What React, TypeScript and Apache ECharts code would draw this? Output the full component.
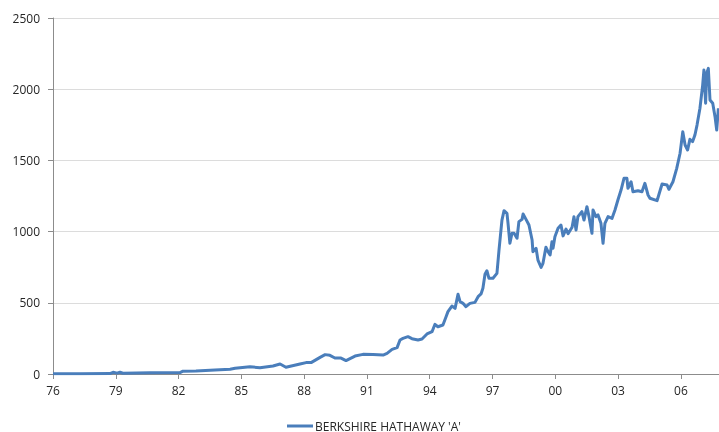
import React, { useEffect, useRef } from "react";
import * as echarts from "echarts";

const seriesName = "BERKSHIRE HATHAWAY 'A'";
const baseYear = 1976;

const years: number[] = [
  1976.0, 1977.29, 1978.72, 1978.87, 1979.06, 1979.2, 1979.34, 1980.63, 1982.07, 1982.21,
  1982.83, 1983.74, 1984.46, 1984.7, 1985.41, 1985.89, 1986.51, 1986.85, 1987.13, 1987.8,
  1988.09, 1988.33, 1988.76, 1989.0, 1989.23, 1989.47, 1989.76, 1990.0, 1990.43, 1990.81,
  1991.29, 1991.77, 1991.96, 1992.2, 1992.44, 1992.58, 1992.72, 1992.96, 1993.15, 1993.44,
  1993.63, 1993.87, 1994.11, 1994.25, 1994.39, 1994.63, 1994.78, 1994.87, 1995.06, 1995.21,
  1995.35, 1995.45, 1995.59, 1995.73, 1995.92, 1996.16, 1996.31, 1996.45, 1996.54, 1996.64,
  1996.73, 1996.83, 1997.02, 1997.21, 1997.31, 1997.45, 1997.55, 1997.69, 1997.74, 1997.83,
  1997.93, 1998.03, 1998.17, 1998.26, 1998.41, 1998.46, 1998.6, 1998.74, 1998.89, 1998.93,
  1999.08, 1999.17, 1999.32, 1999.41, 1999.55, 1999.65, 1999.75, 1999.84, 1999.89, 1999.98,
  2000.13, 2000.27, 2000.37, 2000.51, 2000.61, 2000.8, 2000.89, 2000.99, 2001.08, 2001.27,
  2001.37, 2001.51, 2001.61, 2001.75, 2001.8, 2001.94, 2002.04, 2002.18, 2002.28, 2002.37,
  2002.52, 2002.71, 2002.85, 2002.99, 2003.14, 2003.28, 2003.42, 2003.47, 2003.62, 2003.71,
  2003.95, 2004.14, 2004.28, 2004.43, 2004.52, 2004.86, 2005.1, 2005.34, 2005.43, 2005.62,
  2005.8, 2005.96, 2006.09, 2006.2, 2006.32, 2006.43, 2006.56, 2006.67, 2006.77, 2006.91,
  2007.04, 2007.1, 2007.18, 2007.23, 2007.31, 2007.39, 2007.52, 2007.63, 2007.71, 2007.79,
];

const prices: number[] = [
  1, 2, 3, 12, 6, 12, 5, 8, 10, 20,
  21, 28, 33, 40, 51, 44, 56, 70, 47, 70,
  80, 80, 117, 136, 131, 112, 112, 94, 126, 138,
  137, 133, 145, 173, 185, 239, 250, 262, 248, 239,
  246, 281, 297, 349, 332, 344, 402, 438, 477, 461,
  560, 508, 496, 473, 496, 503, 543, 562, 602, 700,
  725, 672, 672, 707, 871, 1081, 1147, 1128, 1058, 918,
  988, 988, 953, 1070, 1086, 1124, 1086, 1046, 941, 859,
  883, 800, 749, 777, 890, 859, 836, 929, 883, 964,
  1023, 1046, 970, 1017, 985, 1030, 1105, 1011, 1105, 1140,
  1081, 1175, 1105, 988, 1152, 1105, 1117, 1058, 918, 1058,
  1105, 1093, 1152, 1222, 1292, 1374, 1374, 1304, 1350, 1280,
  1287, 1280, 1339, 1257, 1234, 1217, 1334, 1327, 1297, 1350,
  1444, 1550, 1702, 1608, 1573, 1648, 1632, 1678, 1748, 1866,
  2029, 2135, 1901, 2112, 2146, 1924, 1901, 1807, 1713, 1866,
];

const xAxisEndYear = 2007.82;
const yTicks = { min: 0, max: 2500, interval: 500 };

export default function App() {
  const ref = useRef<HTMLDivElement>(null);
  useEffect(() => {
    if (!ref.current) return;
    const chart = echarts.init(ref.current, undefined, { renderer: "svg" });
    const data = years.map((y, i) => [y - baseYear, prices[i]]);
    chart.setOption({
      animation: false,
      textStyle: { fontFamily: "Open Sans" },
      grid: { left: 53, right: 0, top: 18, bottom: 58, containLabel: false },
      legend: {
        data: [{ name: seriesName, icon: "rect" }],
        left: 287,
        top: 420,
        padding: 0,
        itemWidth: 26,
        itemHeight: 3,
        itemGap: 4,
        textStyle: { fontFamily: "Open Sans", fontSize: 12, color: "#262626", padding: [0, 0, 0, -3] },
      },
      xAxis: {
        type: "value",
        min: 0,
        max: xAxisEndYear - baseYear,
        interval: 3,
        axisLine: { show: true, lineStyle: { color: "#8c8c8c", width: 1 } },
        axisTick: { show: true, length: 5, lineStyle: { color: "#8c8c8c" } },
        splitLine: { show: false },
        axisLabel: {
          margin: 10,
          fontSize: 12,
          color: "#262626",
          showMaxLabel: false,
          formatter: (v: number) => {
            const r = Math.round(v / 3);
            if (Math.abs(v / 3 - r) > 1e-6) return "";
            const yr = (baseYear + Math.round(v)) % 100;
            return String(yr).padStart(2, "0");
          },
        },
      },
      yAxis: {
        type: "value",
        min: yTicks.min,
        max: yTicks.max,
        interval: yTicks.interval,
        axisLine: { show: true, lineStyle: { color: "#8c8c8c", width: 1 } },
        axisTick: { show: true, length: 5, lineStyle: { color: "#8c8c8c" } },
        splitLine: { show: true, lineStyle: { color: "#dcdcdc", width: 1 } },
        axisLabel: {
          margin: 13,
          fontSize: 12,
          color: "#262626",
          formatter: (v: number) => String(v),
        },
      },
      series: [
        {
          name: seriesName,
          type: "line",
          data,
          symbol: "none",
          smooth: false,
          lineStyle: { color: "#4A7EBB", width: 3, join: "round" },
          itemStyle: { color: "#4A7EBB" },
        },
      ],
    });
    return () => chart.dispose();
  }, []);
  return <div ref={ref} style={{ width: 719, height: 432, position: "fixed", left: 0, top: 0 }} />;
}
